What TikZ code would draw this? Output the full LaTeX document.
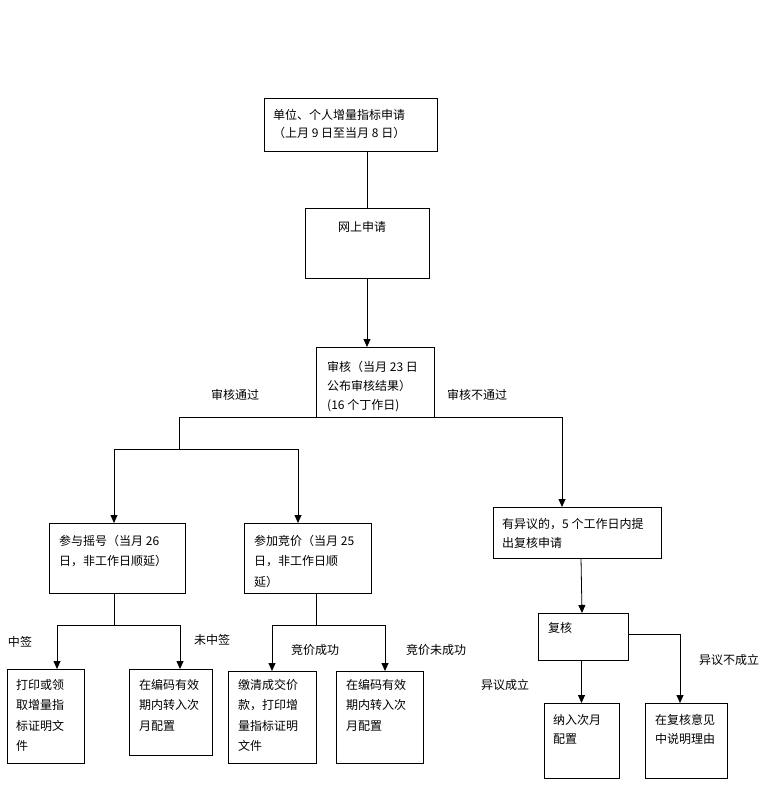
\documentclass[tikz,border=0pt]{standalone}
\usepackage{fontspec}
\newfontfamily\cjk{Noto Sans CJK SC}
\usetikzlibrary{arrows.meta,calc,positioning}
\tikzset{
  flowbox/.style  = {draw, line width=0.8pt, anchor=north west,
                     inner sep=0pt, outer sep=0pt},
  boxtext/.style  = {anchor=north west, inner sep=0pt, align=left,
                     font=\cjk\fontsize{12}{#1}\selectfont},
  boxtext/.default = 20.5,
  edgelab/.style  = {inner sep=0pt, font=\cjk\fontsize{12}{14}\selectfont},
  flow/.style     = {-{Triangle[length=8pt,width=7pt]}, line width=0.8pt},
  link/.style     = {line width=0.8pt},
}

\begin{document}
\begin{tikzpicture}[x=1pt,y=-1pt]
\useasboundingbox (0,0) rectangle (768,810);

\node[flowbox, minimum width=173pt, minimum height=53pt] (apply) at (264,98) {};
\node[boxtext=18, below right=11pt and 9pt of apply.north west] (applytxt)
  {单位、个人增量指标申请\\（上月 9 日至当月 8 日）};

\node[flowbox, minimum width=124pt, minimum height=70pt] (online) at (305,208) {};
\node[boxtext, below right=13pt and 33pt of online.north west] (onlinetxt) {网上申请};

\node[flowbox, minimum width=118pt, minimum height=70pt] (review) at (316,347) {};
\node[boxtext=19, below right=14pt and 11pt of review.north west] (reviewtxt)
  {审核（当月 23 日\\公布审核结果）\\(16 个丁作日)};

\node[flowbox, minimum width=136pt, minimum height=70pt] (lottery) at (49,523) {};
\node[boxtext, below right=12pt and 10pt of lottery.north west] (lotterytxt)
  {参与摇号（当月 26\\日，非工作日顺延）};

\node[flowbox, minimum width=127pt, minimum height=70pt] (bidding) at (244,523) {};
\node[boxtext, below right=12pt and 10pt of bidding.north west] (biddingtxt)
  {参加竞价（当月 25\\日，非工作日顺\\延）};

\node[flowbox, minimum width=168pt, minimum height=51pt] (objection) at (493,507) {};
\node[boxtext=19, below right=11pt and 9pt of objection.north west] (objectiontxt)
  {有异议的，5 个工作日内提\\出复核申请};

\node[flowbox, minimum width=90pt, minimum height=47pt] (recheck) at (538,613) {};
\node[boxtext, below right=9pt and 10pt of recheck.north west] (rechecktxt) {复核};

\node[flowbox, minimum width=77pt, minimum height=94pt] (print) at (7,669) {};
\node[boxtext, below right=10pt and 9pt of print.north west] (printtxt)
  {打印或领\\取增量指\\标证明文\\件};

\node[flowbox, minimum width=83pt, minimum height=86pt] (nextmone) at (129,669) {};
\node[boxtext, below right=10pt and 10pt of nextmone.north west] (nextmonetxt)
  {在编码有效\\期内转入次\\月配置};

\node[flowbox, minimum width=88pt, minimum height=92pt] (pay) at (228,671) {};
\node[boxtext, below right=8pt and 10pt of pay.north west] (paytxt)
  {缴清成交价\\款，打印增\\量指标证明\\文件};

\node[flowbox, minimum width=87pt, minimum height=92pt] (nextmtwo) at (336,671) {};
\node[boxtext, below right=8pt and 10pt of nextmtwo.north west] (nextmtwotxt)
  {在编码有效\\期内转入次\\月配置};

\node[flowbox, minimum width=75pt, minimum height=75pt] (include) at (544,703) {};
\node[boxtext=19, below right=11pt and 9pt of include.north west] (includetxt)
  {纳入次月\\配置};

\node[flowbox, minimum width=82pt, minimum height=75pt] (explain) at (645,703) {};
\node[boxtext=19, below right=11pt and 10pt of explain.north west] (explaintxt)
  {在复核意见\\中说明理由};

\node[edgelab] (passlab)   at (235,395) {审核通过};
\node[edgelab] (faillab)   at (477,395) {审核不通过};
\node[edgelab] (winlab)    at (20,642)  {中签};
\node[edgelab] (loselab)   at (212,640) {未中签};
\node[edgelab] (deallab)   at (315,650) {竞价成功};
\node[edgelab] (nodeallab) at (436,650) {竞价未成功};
\node[edgelab] (oklab)     at (505,685) {异议成立};
\node[edgelab] (rejlab)    at (729,660) {异议不成立};

\coordinate (passsplit) at (179,449);
\coordinate (failturn)  at (562,449);
\coordinate (lotjoin)   at (114,449);
\coordinate (bidjoin)   at (298,449);
\coordinate (lotout)    at (114,625);
\coordinate (winturn)   at (57,625);
\coordinate (loseturn)  at (180,625);
\coordinate (bidout)    at (316,625);
\coordinate (dealturn)  at (272,625);
\coordinate (nodealturn) at (385,625);
\coordinate (rejturn)   at (680,634);

\draw[link] (online.north |- apply.south) -- (online.north);
\draw[flow] (online.south) -- (online.south |- review.north);

\draw[link] (passsplit |- review.south) -- (failturn |- review.south);
\draw[link] (passsplit |- review.south) -- (passsplit);
\draw[link] (lotjoin) -- (bidjoin);
\draw[flow] (lotjoin) -- (lotjoin |- lottery.north);
\draw[flow] (bidjoin) -- (bidjoin |- bidding.north);
\draw[flow] (failturn |- review.south) -- (failturn |- objection.north);

\draw[link] (lotout |- lottery.south) -- (lotout);
\draw[link] (winturn) -- (loseturn);
\draw[flow] (winturn) -- (winturn |- print.north);
\draw[flow] (loseturn) -- (loseturn |- nextmone.north);

\draw[link] (bidout |- bidding.south) -- (bidout);
\draw[link] (dealturn) -- (nodealturn);
\draw[flow] (dealturn) -- (dealturn |- pay.north);
\draw[flow] (nodealturn) -- (nodealturn |- nextmtwo.north);

\draw[flow] ([xshift=4pt]objection.south) -- ([xshift=-1pt]recheck.north);
\draw[flow] (include.north |- recheck.south) -- (include.north);
\draw[flow] (recheck.east |- rejturn) -- (rejturn) -- (rejturn |- explain.north);
\end{tikzpicture}
\end{document}
